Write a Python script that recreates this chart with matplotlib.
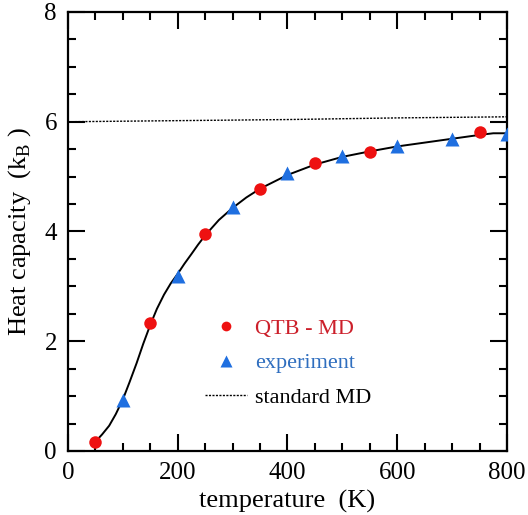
import matplotlib
matplotlib.use('Agg')
import matplotlib.pyplot as plt
from matplotlib.lines import Line2D
from matplotlib.ticker import MultipleLocator

plt.rcParams['font.family'] = 'Liberation Serif'
plt.rcParams['mathtext.fontset'] = 'custom'
plt.rcParams['mathtext.rm'] = 'Liberation Serif'

# QTB-MD points (red circles)
qtb_T = [50, 150, 250, 350, 450, 550, 750]
qtb_C = [0.17, 2.33, 3.96, 4.78, 5.24, 5.45, 5.82]

# experiment (blue triangles)
exp_T = [100, 200, 300, 400, 500, 600, 700, 800]
exp_C = [0.93, 3.19, 4.45, 5.06, 5.38, 5.56, 5.68, 5.77]

# smooth curve through the data (black line)
fit_T = [50, 62, 75, 87, 100, 112, 125, 137, 150, 162, 175, 187, 200, 212, 225,
         237, 250, 275, 300, 325, 350, 400, 450, 500, 550, 600, 650, 700, 750,
         775, 800]
fit_C = [0.17, 0.30, 0.46, 0.67, 0.94, 1.25, 1.60, 1.95, 2.30, 2.59, 2.85, 3.05,
         3.23, 3.41, 3.59, 3.76, 3.93, 4.21, 4.43, 4.62, 4.78, 5.03, 5.22, 5.36,
         5.46, 5.55, 5.62, 5.69, 5.76, 5.79, 5.79]

# standard MD (dotted)
md_T = [0, 200, 400, 600, 800]
md_C = [6.00, 6.02, 6.04, 6.07, 6.09]

fig = plt.figure(figsize=(5.28, 5.15), dpi=100)
ax = fig.add_axes([0.1288, 0.1243, 0.8314, 0.8524])

ax.plot(md_T, md_C, color='black', lw=1.0, ls=(0, (1.5, 1.0)))
ax.plot(fit_T, fit_C, color='black', lw=1.4)
ax.plot(qtb_T, qtb_C, 'o', color='#ee1111', ms=9, mec='none', zorder=3)
ax.plot(exp_T, exp_C, '^', color='#1f6fe0', ms=10, mec='none', zorder=3)

ax.set_xlim(0, 800)
ax.set_ylim(0, 8)
ax.xaxis.set_major_locator(MultipleLocator(200))
ax.xaxis.set_minor_locator(MultipleLocator(50))
ax.yaxis.set_major_locator(MultipleLocator(2))
ax.yaxis.set_minor_locator(MultipleLocator(0.5))
ax.tick_params(which='both', direction='in', top=True, right=True, width=1.5)
ax.tick_params(which='major', length=12, labelsize=18, pad=8)
ax.tick_params(which='minor', length=6)
for s in ax.spines.values():
    s.set_linewidth(1.6)

ax.set_xlabel('temperature  (K)', fontsize=19, labelpad=4)
ax.set_ylabel(r'Heat capacity  (k$_{\mathrm{B}}$ )', fontsize=19, labelpad=8)

handles = [
    Line2D([], [], ls='none', marker='o', color='#ee1111', ms=7, mec='none'),
    Line2D([], [], ls='none', marker='^', color='#1f6fe0', ms=8, mec='none'),
    Line2D([], [], color='black', lw=1.0, ls=(0, (1.5, 1.0))),
]
ax.legend(handles, ['QTB - MD', 'experiment', 'standard MD'],
          labelcolor=['#cc1f2a', '#2f6ebf', 'black'],
          loc='upper left', bbox_to_anchor=(205 / 528, 1 - 318 / 515),
          bbox_transform=fig.transFigure, frameon=False, fontsize=16,
          handlelength=1.9, handletextpad=0.35, labelspacing=0.64,
          borderpad=0, borderaxespad=0)

fig.savefig('out.png', dpi=100)
